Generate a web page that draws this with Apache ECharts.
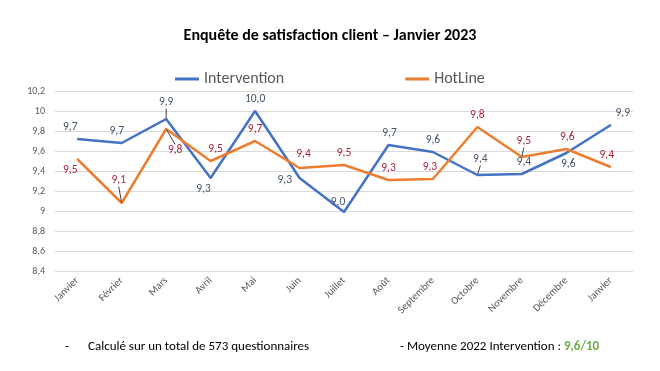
<!DOCTYPE html>
<html><head><meta charset="utf-8">
<script src="https://cdn.jsdelivr.net/npm/echarts@6/dist/echarts.min.js"></script>
<style>html,body{margin:0;padding:0;background:#fff}#c{width:660px;height:371px}</style>
</head><body><div id="c"></div>
<script>
var categories = ['Janvier','Février','Mars','Avril','Mai','Juin','Juillet','Août','Septembre','Octobre','Novembre','Décembre','Janvier'];
var intervention = [9.72, 9.68, 9.92, 9.33, 10.0, 9.33, 8.99, 9.66, 9.59, 9.36, 9.37, 9.58, 9.86];
var hotline = [9.52, 9.08, 9.82, 9.50, 9.70, 9.43, 9.46, 9.31, 9.32, 9.84, 9.54, 9.62, 9.44];
var yTicks = [8.4, 8.6, 8.8, 9.0, 9.2, 9.4, 9.6, 9.8, 10.0, 10.2];

// label placements: position per point, shift [dx, dy], leader line flag
var intPos = ['top','top','top','bottom','top','left','top','top','top','top','top','bottom','top'];
var intShift = [[-7,0],[-5,0],[0,-5],[-7,0],[0,0],[-2,2],[-6,2],[1,0],[0,0],[3,-4],[2,0],[2,0],[12,0]];
var intLead = [0,0,1,0,0,0,0,0,0,1,0,0,0];
var hotPos = ['bottom','top','bottom','top','top','top','top','top','top','top','top','top','top'];
var hotShift = [[-7,0],[-3,-11],[9,10],[5,0],[0,0],[4,-2],[0,0],[0,0],[-3,0],[0,0],[2,-4],[1,0],[-4,0]];
var hotLead = [0,1,1,0,0,0,0,0,0,0,1,0,0];

function fmt(p){ return p.value.toFixed(1).replace('.', ','); }
function build(vals, pos, lead){
  return vals.map(function(v,i){ return {value:v, label:{position:pos[i]}, labelLine:{show: !!lead[i]}}; });
}
function layout(shift){
  return function(p){ var d = shift[p.dataIndex]; return {dx:d[0], dy:d[1]}; };
}
var FONT = 'Carlito, Lato, "Open Sans", sans-serif';
var chart = echarts.init(document.getElementById('c'), null, {renderer:'canvas'});
chart.setOption({
  animation:false,
  textStyle:{fontFamily:FONT},
  title:{text:'Enquête de satisfaction client – Janvier 2023', left:'center', top:23,
    textStyle:{fontFamily:FONT, fontSize:16, fontWeight:'bold', color:'#000'}},
  legend:{top:66, left:170, itemGap:121, itemWidth:24, itemHeight:3, icon:'rect',
    textStyle:{fontFamily:FONT, fontSize:16, color:'#595959'},
    data:['Intervention','HotLine']},
  grid:{left:55, right:27, top:91, bottom:100},
  xAxis:{type:'category', data:categories, boundaryGap:true,
    axisLine:{show:false}, axisTick:{show:false},
    axisLabel:{rotate:45, fontSize:10.5, color:'#595959', margin:8, interval:0, fontFamily:FONT}},
  yAxis:{type:'value', min:8.4, max:10.2, interval:0.2,
    axisLine:{show:false}, axisTick:{show:false},
    splitLine:{lineStyle:{color:'#d9d9d9', width:1}},
    axisLabel:{fontSize:10, color:'#595959', margin:10, fontFamily:FONT,
      formatter:function(v){ var t = yTicks.filter(function(x){return Math.abs(x-v)<1e-6;})[0]; if(t===undefined) t=v; var s = (Math.round(t*10)/10).toString(); return s.replace('.', ','); }}},
  series:[
    {name:'Intervention', type:'line', data:build(intervention,intPos,intLead), showSymbol:true, symbol:'circle', symbolSize:1,
     lineStyle:{color:'#4472c4', width:2.5}, itemStyle:{color:'#4472c4'},
     labelLayout:layout(intShift), labelLine:{show:false, lineStyle:{color:'#404040', width:1}},
     label:{show:true, formatter:fmt, color:'#44546a', fontSize:11.5, fontFamily:FONT}},
    {name:'HotLine', type:'line', data:build(hotline,hotPos,hotLead), showSymbol:true, symbol:'circle', symbolSize:1,
     lineStyle:{color:'#ed7d31', width:2.5}, itemStyle:{color:'#ed7d31'},
     labelLayout:layout(hotShift), labelLine:{show:false, lineStyle:{color:'#404040', width:1}},
     label:{show:true, formatter:fmt, color:'#a5243b', fontSize:11.5, fontFamily:FONT}}
  ],
  graphic:[
    {type:'text', left:65, top:340, style:{text:'-', fontFamily:FONT, fontSize:13, fill:'#000'}},
    {type:'text', left:88, top:340, style:{text:'Calculé sur un total de 573 questionnaires', fontFamily:FONT, fontSize:13, fill:'#000'}},
    {type:'text', left:400, top:340, style:{text:'{a|- Moyenne 2022 Intervention : }{b|9,6/10}', fontFamily:FONT, fontSize:13, fill:'#000',
      rich:{a:{fontFamily:FONT, fontSize:13, fill:'#000'}, b:{fontFamily:FONT, fontSize:13, fontWeight:'bold', fill:'#70ad47'}}}}
  ]
});
</script></body></html>
